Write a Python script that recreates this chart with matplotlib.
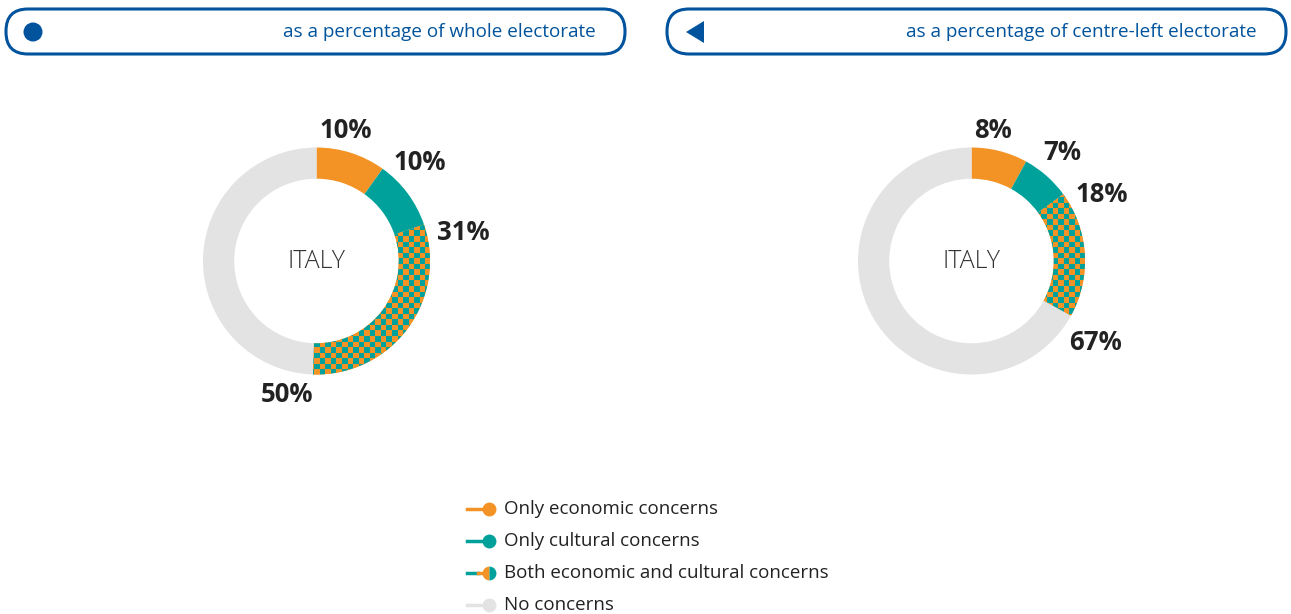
import numpy as np
import matplotlib
matplotlib.use("Agg")
import matplotlib.pyplot as plt
from matplotlib.patches import FancyBboxPatch, Circle, Polygon
from matplotlib.lines import Line2D

plt.rcParams['font.family'] = ['Open Sans', 'DejaVu Sans']

# ---- data ----
categories = ["Only economic concerns", "Only cultural concerns",
              "Both economic and cultural concerns", "No concerns"]
whole_electorate = [10, 10, 31, 50]
centre_left_electorate = [8, 7, 18, 67]
panel_titles = ["as a percentage of whole electorate",
                "as a percentage of centre-left electorate"]
country = "ITALY"

# ---- style ----
ORANGE = "#f39325"
TEAL = "#00a19a"
GREY = "#e3e3e3"
BLUE = "#00539c"
DARK = "#222222"
colors = [ORANGE, TEAL, ORANGE, GREY]

W, H = 1291, 614
fig = plt.figure(figsize=(W / 100, H / 100), dpi=100)

# overlay axes in pixel units for headers and legend
bg = fig.add_axes([0, 0, 1, 1])
bg.set_xlim(0, W)
bg.set_ylim(H, 0)
bg.axis("off")

# header boxes
headers = [(6, 9, 619, 45), (667, 9, 619, 45)]
for (x, y, w, h), title in zip(headers, panel_titles):
    box = FancyBboxPatch((x, y), w, h,
                         boxstyle="round,pad=0,rounding_size=22",
                         fc="white", ec=BLUE, lw=2.2, mutation_aspect=1)
    bg.add_patch(box)
    bg.text(x + w - 29, y + h / 2 + 0.5, title, ha="right", va="center",
            fontsize=13.6, color=BLUE)
bg.add_patch(Circle((33, 32), 9.5, fc=BLUE, ec="none"))
bg.add_patch(Polygon([[686, 32], [704, 21], [704, 43]], closed=True,
                     fc=BLUE, ec="none"))

# donut layout (pixel centre, outer radius) and label positions
centres = [(316.5, 261), (971.5, 261)]
R_PX = 113.5
label_pos = [
    [(346, 130), (420, 163), (463, 233), (287, 394)],
    [(993, 130), (1062, 152), (1102, 194), (1095, 342)],
]

# checkerboard texture for the "both" segment
n_cells = 45
ii, jj = np.indices((n_cells, n_cells))
checker = ((ii + jj) % 2).astype(float)
checker_cmap = matplotlib.colors.ListedColormap([ORANGE, TEAL])

span = 1.1
for (cx, cy), values, labels in zip(centres, [whole_electorate, centre_left_electorate], label_pos):
    size = R_PX * 2 * span
    ax = fig.add_axes([(cx - size / 2) / W, 1 - (cy + size / 2) / H, size / W, size / H])
    wedges, _ = ax.pie(values, colors=colors, startangle=90, counterclock=False,
                       radius=1.0, wedgeprops=dict(width=0.275, linewidth=0))
    ax.set_xlim(-span, span)
    ax.set_ylim(-span, span)
    ax.set_aspect("equal")
    ax.axis("off")
    img = ax.imshow(checker, cmap=checker_cmap, extent=(-span, span, -span, span),
                    interpolation="nearest", zorder=wedges[2].get_zorder() + 0.1)
    img.set_clip_path(wedges[2])
    ax.text(0, 0, country, ha="center", va="center", fontsize=18,
            fontweight="light", color="#333333")
    for v, (lx, ly) in zip(values, labels):
        bg.text(lx, ly, f"{v}%", ha="center", va="center", fontsize=18.5,
                fontweight="bold", color=DARK)

# legend
leg_x, leg_y0, leg_dy = 467, 509, 32
for k, name in enumerate(categories):
    y = leg_y0 + k * leg_dy
    if k == 2:
        bg.add_line(Line2D([leg_x, leg_x + 11], [y, y], color=TEAL, lw=2.5))
        bg.add_line(Line2D([leg_x + 11, leg_x + 20], [y, y], color=ORANGE, lw=2.5))
        bg.plot([leg_x + 22], [y], marker="o", ms=10, fillstyle="left",
                markerfacecolor=ORANGE, markerfacecoloralt=TEAL,
                markeredgewidth=0)
    else:
        c = [ORANGE, TEAL, None, GREY][k]
        bg.add_line(Line2D([leg_x, leg_x + 20], [y, y], color=c, lw=2.5))
        bg.plot([leg_x + 22], [y], marker="o", ms=10, color=c, markeredgewidth=0)
    bg.text(leg_x + 37, y + 0.5, name, ha="left", va="center", fontsize=13.5, color=DARK)

fig.savefig("out.png", dpi=100)
